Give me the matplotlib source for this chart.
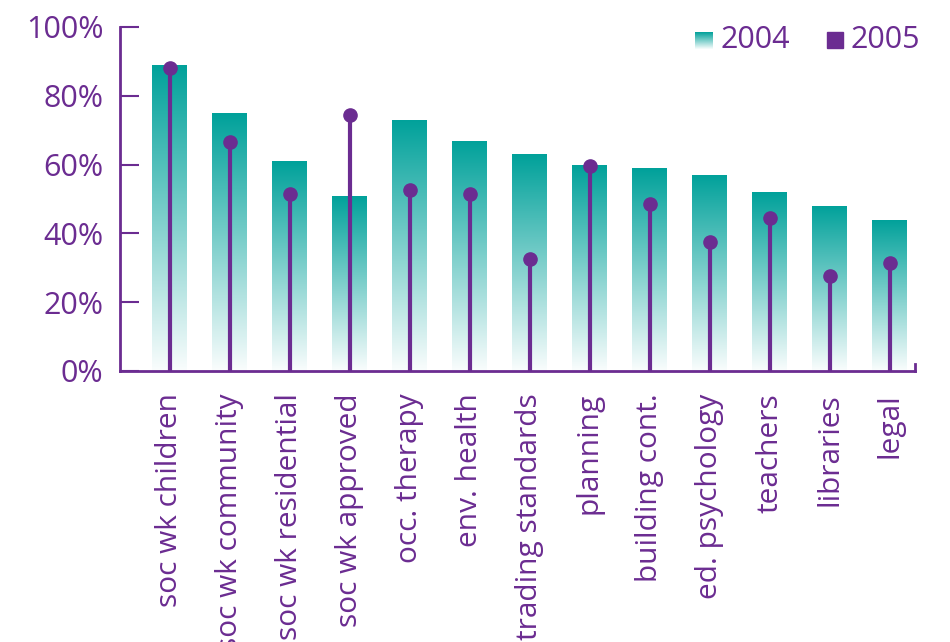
import numpy as np
import matplotlib
matplotlib.use('Agg')
import matplotlib.pyplot as plt
from matplotlib.patches import Rectangle

plt.rcParams['font.family'] = ['Open Sans', 'DejaVu Sans']

# dados
categorias = ["soc wk children", "soc wk community", "soc wk residential",
              "soc wk approved", "occ. therapy", "env. health",
              "trading standards", "planning", "building cont.",
              "ed. psychology", "teachers", "libraries", "legal"]
valores_2004 = [89, 75, 61, 51, 73, 67, 63, 60, 59, 57, 52, 48, 44]
valores_2005 = [88, 66.5, 51.5, 74.5, 52.5, 51.5, 32.5, 59.5, 48.5, 37.5, 44.5, 27.5, 31.5]
ticks_y = [0, 20, 40, 60, 80, 100]

roxo = '#6B2C91'
teal = np.array([0, 161, 154]) / 255
branco = np.array([250, 253, 253]) / 255

# gradiente vertical (topo teal -> base quase branca)
t = np.linspace(0, 1, 256)[:, None]
grad = (teal[None, :] * (1 - t) + branco[None, :] * t)[:, None, :]

fig = plt.figure(figsize=(9.5, 6.42), dpi=100)
ax = fig.add_axes([120/950, (642-371)/642, 795/950, 344/642])

x = np.arange(len(categorias))
largura = 0.58
barras = ax.bar(x, valores_2004, width=largura, color='none', edgecolor='none', zorder=1)
for b in barras:
    x0 = b.get_x()
    h = b.get_height()
    im = ax.imshow(grad, extent=[x0, x0 + largura, 0, h], aspect='auto',
                   zorder=1, interpolation='bilinear')
    im.set_clip_path(b)

# 2005 - hastes com bolinha
ax.vlines(x, 0, valores_2005, color=roxo, linewidth=3, zorder=3)
ax.plot(x, valores_2005, 'o', color=roxo, markersize=9.5, zorder=4)

ax.set_xlim(-0.825, 12.425)
ax.set_ylim(0, 100)

ax.set_yticks(ticks_y)
ax.set_yticklabels([f"{v}%" for v in ticks_y])
ax.set_xticks(x)
ax.set_xticklabels(categorias, rotation=90, va='top', ha='center')

ax.tick_params(axis='y', direction='in', length=14, width=1.5, color=roxo,
               labelcolor=roxo, labelsize=22, pad=12)
ax.tick_params(axis='x', length=0, labelcolor=roxo, labelsize=21.5, pad=16)

ax.spines['top'].set_visible(False)
for s in ['left', 'bottom', 'right']:
    ax.spines[s].set_color(roxo)
    ax.spines[s].set_linewidth(2)
ax.spines['right'].set_bounds(0, 2)

# legenda manual
lax = fig.add_axes([695/950, 1 - 49/642, 18/950, 17/642])
lax.imshow(grad, aspect='auto', extent=[0, 1, 0, 1])
lax.axis('off')
fig.text(721/950, 1 - 40/642, "2004", color=roxo, fontsize=22, va='center', ha='left')
fig.patches.append(Rectangle((827/950, 1 - 48/642), 16/950, 16/642,
                             transform=fig.transFigure, color=roxo, figure=fig))
fig.text(851/950, 1 - 40/642, "2005", color=roxo, fontsize=22, va='center', ha='left')

fig.savefig('out.png', dpi=100)
